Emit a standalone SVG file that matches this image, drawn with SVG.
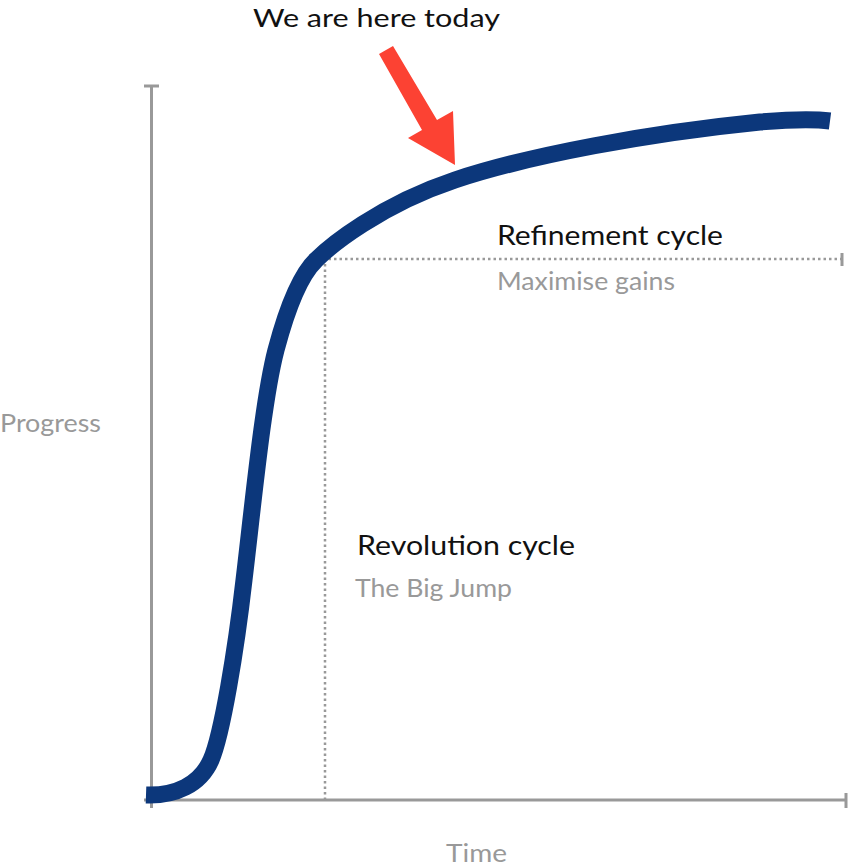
<svg xmlns="http://www.w3.org/2000/svg" width="848" height="866" viewBox="0 0 848 866">
<style>
.axis{stroke:#999;stroke-width:3;fill:none}
.dot{stroke:#999;stroke-width:2.5;stroke-dasharray:2.5 3;fill:none}
.curve{stroke:#0C377B;stroke-width:17;fill:none;stroke-linecap:butt}
.t{font-family:Lato,"Open Sans",sans-serif}
.blk{fill:#111;font-size:27px}
.gry{fill:#999;font-size:25px}
</style>
<rect width="848" height="866" fill="#fff"/>
<g id="axes">
<path class="axis" d="M151.5,86V808M144,86H159M144,800H846M846,793V808"/>
</g>
<g id="connectors">
<path class="dot" d="M325,800V259H842"/>
<path class="axis" d="M842,253V266"/>
</g>
<g id="curve">
<path class="curve" d="M146,795 C175,796 200,785 211,760 C222,735 236,650 244,580 C253,505 263,400 276,350 C280,335 294,281 316,260 C330,246 380,205 455,180 C530,155 650,133 760,122 C795,119 815,119 830,121"/>
</g>
<g id="arrow">
<polygon points="379,54 393,46 437,120 453,111 455,165 408,138 422,130" fill="#FC4233"/>
</g>
<g id="label-today"><text class="t blk" x="253" y="27" font-size="25px" style="font-size:25px" textLength="247" lengthAdjust="spacingAndGlyphs">We are here today</text></g>
<g id="label-refinement">
<text class="t blk" x="497" y="245" textLength="226" lengthAdjust="spacingAndGlyphs">Refinement cycle</text>
<text class="t gry" x="497" y="290" textLength="178" lengthAdjust="spacingAndGlyphs">Maximise gains</text>
</g>
<g id="label-revolution">
<text class="t blk" x="357" y="555" textLength="218" lengthAdjust="spacingAndGlyphs">Revolution cycle</text>
<text class="t gry" x="355" y="597" textLength="157" lengthAdjust="spacingAndGlyphs">The Big Jump</text>
</g>
<g id="label-progress"><text class="t gry" x="0" y="432" textLength="101" lengthAdjust="spacingAndGlyphs">Progress</text></g>
<g id="label-time"><text class="t gry" x="446" y="862" textLength="61" lengthAdjust="spacingAndGlyphs">Time</text></g>
</svg>
